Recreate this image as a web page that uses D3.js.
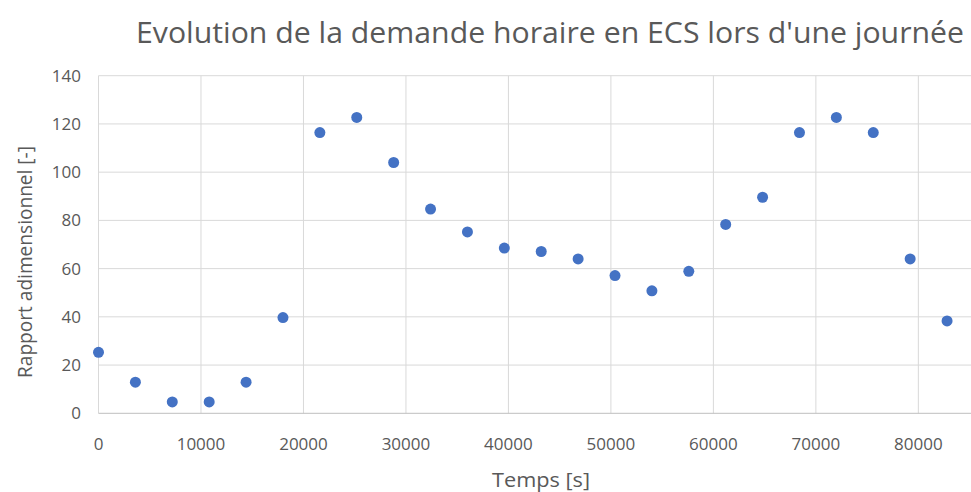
<!DOCTYPE html>
<html>
<head>
<meta charset="utf-8">
<script src="https://cdn.jsdelivr.net/npm/d3@7/dist/d3.min.js"></script>
<style>
  html, body { margin: 0; padding: 0; background: #fff; }
  svg { display: block; }
  text { font-family: "Open Sans", "Noto Sans", sans-serif; fill: #595959; }
</style>
</head>
<body>
<svg id="chart" width="971" height="492"></svg>
<script>
const title = "Evolution de la demande horaire en ECS lors d'une journée";
const xTitle = "Temps [s]";
const yTitle = "Rapport adimensionnel [-]";
const times = [0, 3600, 7200, 10800, 14400, 18000, 21600, 25200, 28800, 32400, 36000, 39600,
               43200, 46800, 50400, 54000, 57600, 61200, 64800, 68400, 72000, 75600, 79200, 82800];
const ratios = [25.3, 12.9, 4.7, 4.7, 12.9, 39.7, 116.4, 122.7, 104, 84.7, 75.2, 68.5,
                67.1, 64, 57.1, 50.8, 58.9, 78.3, 89.6, 116.4, 122.7, 116.4, 64, 38.3];
const xTicks = [0, 10000, 20000, 30000, 40000, 50000, 60000, 70000, 80000];
const yTicks = [0, 20, 40, 60, 80, 100, 120, 140];

const svg = d3.select("#chart");
const mLeft = 98.5, mRight = 969.6, mTop = 75.7, mBottom = 413.3;
const x = d3.scaleLinear().domain([0, 85000]).range([mLeft, mRight]);
const y = d3.scaleLinear().domain([0, 140]).range([mBottom, mTop]);

// horizontal gridlines
svg.append("g").selectAll("line").data(yTicks.filter(d => d > 0)).join("line")
  .attr("x1", mLeft).attr("x2", 971)
  .attr("y1", d => y(d)).attr("y2", d => y(d))
  .attr("stroke", "#d9d9d9").attr("stroke-width", 1);
// vertical gridlines
svg.append("g").selectAll("line").data(xTicks).join("line")
  .attr("x1", d => x(d)).attr("x2", d => x(d))
  .attr("y1", mTop).attr("y2", mBottom)
  .attr("stroke", "#d9d9d9").attr("stroke-width", 1);
// x axis line
svg.append("line").attr("x1", mLeft).attr("x2", 971)
  .attr("y1", mBottom).attr("y2", mBottom)
  .attr("stroke", "#bfbfbf").attr("stroke-width", 1);

// y tick labels
svg.append("g").selectAll("text").data(yTicks).join("text")
  .attr("x", 81).attr("y", d => y(d)).attr("dy", "0.35em")
  .attr("text-anchor", "end").attr("font-size", 17)
  .text(d => d);
// x tick labels
svg.append("g").selectAll("text").data(xTicks).join("text")
  .attr("x", d => x(d)).attr("y", 450)
  .attr("text-anchor", "middle").attr("font-size", 17)
  .text(d => d);

// points
svg.append("g").selectAll("circle").data(times.map((t, i) => [t, ratios[i]])).join("circle")
  .attr("cx", d => x(d[0])).attr("cy", d => y(d[1])).attr("r", 5.5)
  .attr("fill", "#4472c4");

// titles
svg.append("text").attr("x", 550).attr("y", 43).attr("text-anchor", "middle")
  .attr("font-size", 29).attr("textLength", 828).attr("lengthAdjust", "spacingAndGlyphs")
  .text(title);
svg.append("text").attr("x", 541).attr("y", 487).attr("text-anchor", "middle")
  .attr("font-size", 20).attr("textLength", 98).attr("lengthAdjust", "spacingAndGlyphs")
  .text(xTitle);
svg.append("text").attr("transform", "translate(32,262) rotate(-90)").attr("text-anchor", "middle")
  .attr("font-size", 20).attr("textLength", 232).attr("lengthAdjust", "spacingAndGlyphs")
  .text(yTitle);
</script>
</body>
</html>
